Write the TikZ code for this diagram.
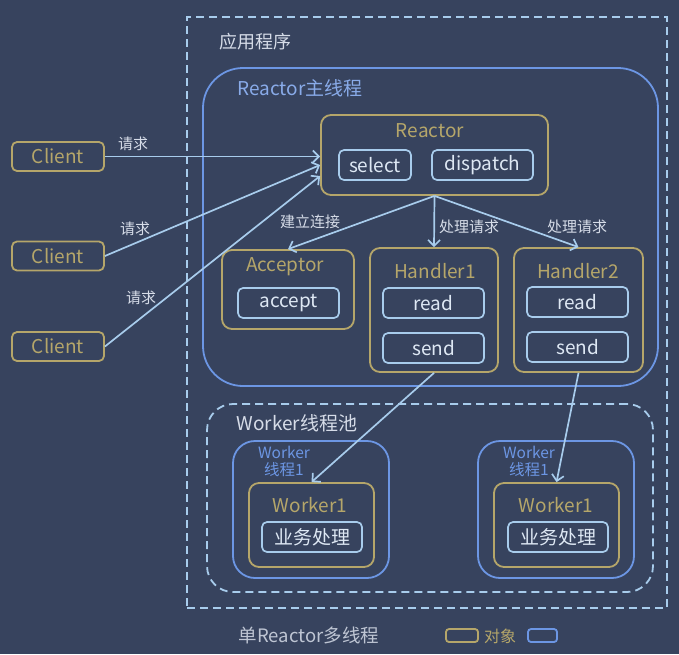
\documentclass[tikz,border=0pt]{standalone}
\usepackage{fontspec}
\setmainfont{Noto Sans CJK SC}
\usepackage{tikz}
\usetikzlibrary{shapes,arrows,arrows.meta,positioning,calc}
\definecolor{navy}{RGB}{55,67,94}
\definecolor{gold}{RGB}{181,166,106}
\definecolor{lineblue}{RGB}{168,204,236}
\definecolor{frameblue}{RGB}{108,150,228}
\definecolor{textlight}{RGB}{214,220,232}
\definecolor{funtext}{RGB}{222,232,244}
\tikzset{
obj/.style = {draw=gold, line width=1.8pt, rounded corners=10pt, inner sep=0pt},
func/.style = {draw=lineblue, line width=1.7pt, rounded corners=5pt, text=funtext, font=\fontsize{19}{21}\selectfont, minimum height=30pt, inner sep=0pt},
client/.style = {obj, rounded corners=5pt, text=gold, font=\fontsize{19}{21}\selectfont, minimum width=92pt, minimum height=29pt},
thread/.style = {draw=frameblue, line width=1.8pt, inner sep=0pt},
pool/.style = {draw=lineblue, line width=1.8pt, dash pattern=on 8pt off 5pt, inner sep=0pt},
title/.style = {text=gold, font=\fontsize{19}{21}\selectfont},
req/.style = {text=textlight, font=\fontsize{15}{17}\selectfont},
flow/.style = {->, draw=lineblue, line width=1.7pt}
}

\begin{document}
\begin{tikzpicture}[x=1pt, y=-1pt, >={Straight Barb[length=6pt,width=12pt]}]
    \useasboundingbox (0,0) rectangle (679,654);
    \fill[navy] (0,0) rectangle (679,654);

    % frames
    \node[pool, minimum width=480pt, minimum height=591pt] (app) at (427,312.5) {};
    \node[text=textlight, font=\fontsize{18}{20}\selectfont] (applbl) at (255,42) {应用程序};
    \node[thread, rounded corners=40pt, minimum width=455pt, minimum height=318pt] (mainthr) at (430.5,227) {};
    \node[text=frameblue!80!white, font=\fontsize{19}{21}\selectfont] (mainlbl) at (300,88) {Reactor主线程};
    \node[pool, rounded corners=26pt, minimum width=446pt, minimum height=188pt] (wpool) at (430,498) {};
    \node[text=textlight, font=\fontsize{19}{21}\selectfont] (poollbl) at (297,423) {Worker线程池};
    \node[thread, rounded corners=22pt, minimum width=156pt, minimum height=137pt] (thr1) at (311,509.5) {};
    \node[thread, rounded corners=22pt, minimum width=156pt, minimum height=137pt] (thr2) at (556,509.5) {};
    \node[text=frameblue, align=center, font=\fontsize{15.5}{17}\selectfont] (thr1lbl) at (284,461) {Worker\\线程1};
    \node[text=frameblue, align=center, font=\fontsize{15.5}{17}\selectfont] (thr2lbl) at (529,461) {Worker\\线程1};

    % clients
    \node[client] (c1) at (58,156.5) {Client};
    \node[client] (c2) at (58,256) {Client};
    \node[client] (c3) at (58,346.5) {Client};

    % reactor
    \node[obj, minimum width=227pt, minimum height=80pt] (reactor) at (434.5,155) {};
    \node[title] (reactorlbl) at (430,131) {Reactor};
    \node[func, minimum width=72pt] (sel) at (375,165) {select};
    \node[func, minimum width=101pt] (disp) at (482.5,165) {dispatch};

    % acceptor and handlers
    \node[obj, minimum width=132pt, minimum height=79pt] (acc) at (288,289.5) {};
    \node[title] (acclbl) at (285,267) {Acceptor};
    \node[func, minimum width=101pt] (accept) at (288.5,303) {accept};
    \node[obj, minimum width=128pt, minimum height=124pt] (h1) at (434,310) {};
    \node[title] (h1lbl) at (435,271) {Handler1};
    \node[func, minimum width=101pt] (h1read) at (433.5,303) {read};
    \node[func, minimum width=101pt] (h1send) at (433.5,348) {send};
    \node[obj, minimum width=129pt, minimum height=124pt] (h2) at (578.5,310) {};
    \node[title] (h2lbl) at (578,271) {Handler2};
    \node[func, minimum width=101pt] (h2read) at (577.5,302) {read};
    \node[func, minimum width=101pt] (h2send) at (577.5,347) {send};

    % workers
    \node[obj, minimum width=125pt, minimum height=84pt] (wk1) at (311.5,525) {};
    \node[title] (wk1lbl) at (310,505) {Worker1};
    \node[func, minimum width=100pt] (biz1) at (312,537) {业务处理};
    \node[obj, minimum width=125pt, minimum height=84pt] (wk2) at (556.5,525) {};
    \node[title] (wk2lbl) at (556,505) {Worker1};
    \node[func, minimum width=100pt] (biz2) at (558,537) {业务处理};

    % connectors
    \coordinate (in2) at ([yshift=-10pt]reactor.west);
    \coordinate (in3) at ([yshift=-21pt]reactor.west);
    \draw[flow] (c1.east) -- (c1.east -| reactor.west);
    \draw[flow] (c2.east) -- (in2);
    \draw[flow] (c3.east) -- (in3);
    \node[req] (q1) at (133,144) {请求};
    \node[req] (q2) at (135,229) {请求};
    \node[req] (q3) at (141,298) {请求};
    \draw[flow] (reactor.south) -- (acc.north);
    \draw[flow] (reactor.south) -- (h1.north);
    \draw[flow] (reactor.south) -- (h2.north);
    \node[req] (conn) at (310,222) {建立连接};
    \node[req] (proc1) at (469,227) {处理请求};
    \node[req] (proc2) at (577,227) {处理请求};
    \draw[flow] (h1.south) -- (wk1.north);
    \draw[flow] (h2.south) -- (wk2.north);

    % legend
    \node[text=textlight!85!navy, font=\fontsize{18.5}{20}\selectfont] (caption) at (309,635) {单Reactor多线程};
    \node[obj, rounded corners=3pt, minimum width=32pt, minimum height=13pt] (legobj) at (462,635.5) {};
    \node[text=gold, font=\fontsize{16}{18}\selectfont] (legtxt) at (500,636) {对象};
    \node[thread, rounded corners=3pt, minimum width=29pt, minimum height=13pt] (legthr) at (542.5,635.5) {};
\end{tikzpicture}
\end{document}
